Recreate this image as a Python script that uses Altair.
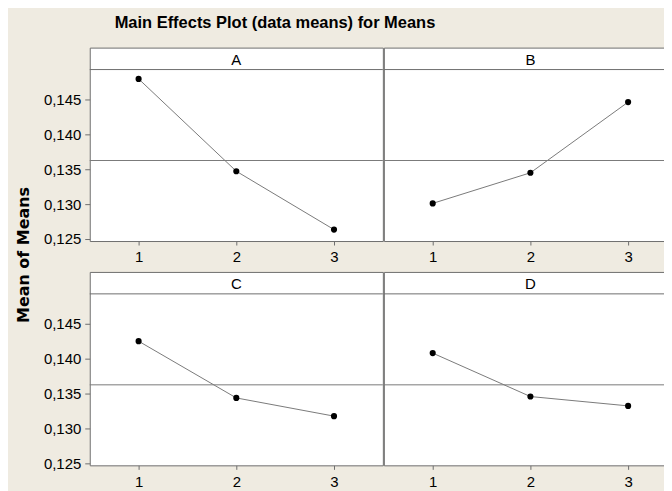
import altair as alt
import pandas as pd

# ---- data ----
factors = ["A", "B", "C", "D"]
levels = [1, 2, 3]
means_A = [0.14796, 0.13471, 0.12634]
means_B = [0.13010, 0.13449, 0.14463]
means_C = [0.14251, 0.13437, 0.13176]
means_D = [0.14080, 0.13457, 0.13323]
grand_mean = 0.13625
y_ticks = [0.125, 0.130, 0.135, 0.140, 0.145]
x_ticks = [1, 2, 3]
chart_title = "Main Effects Plot (data means) for Means"
y_title = "Mean of Means"

series = {"A": means_A, "B": means_B, "C": means_C, "D": means_D}
rows = []
for f in factors:
    for lv, v in zip(levels, series[f]):
        rows.append({"factor": f, "level": lv, "mean": v})
df = pd.DataFrame(rows)

BG = "#EFEBE1"
FRAME = "#6e6e6e"
LINE = "#7a7a7a"
FONT = "Liberation Sans"
PX_PER_LEVEL = 98
HEADER_H = 22
PLOT_H = 172
Y_LOW, Y_HIGH = 0.1247, 0.1493
# extend the domain upward so that the header strip sits inside the frame
Y_TOP = Y_HIGH + HEADER_H * (Y_HIGH - Y_LOW) / PLOT_H
PANEL_H = PLOT_H + HEADER_H

frame_view = alt.ViewBackground(fill="white", stroke=FRAME, strokeWidth=1)


def panel(f, left, width):
    d = df[df["factor"] == f]
    xs = alt.X(
        "level:Q",
        scale=alt.Scale(domain=[0.5, 0.5 + width / PX_PER_LEVEL], nice=False, zero=False),
        axis=alt.Axis(values=x_ticks, format="d", title=None, grid=False, domain=False,
                      tickSize=4, tickColor=FRAME, labelFontSize=15, labelFont=FONT,
                      labelColor="black", labelPadding=5, labelFlush=False),
    )
    if left:
        yaxis = alt.Axis(values=y_ticks, title=None, grid=False, domain=False,
                         labelExpr="replace(format(datum.value, '.3f'), '.', ',')",
                         tickSize=5, tickColor=FRAME, labelFontSize=15, labelFont=FONT,
                         labelColor="black", labelPadding=4)
    else:
        yaxis = None
    ys = alt.Y("mean:Q", scale=alt.Scale(domain=[Y_LOW, Y_TOP], nice=False, zero=False), axis=yaxis)
    base = alt.Chart(d)
    ref = (
        alt.Chart(pd.DataFrame({"mean": [grand_mean]}))
        .mark_rule(color=LINE, strokeWidth=1)
        .encode(y=ys)
    )
    hdr_line = (
        alt.Chart(pd.DataFrame({"factor": [f]}))
        .mark_rule(color=FRAME, strokeWidth=1)
        .encode(x=alt.value(0), x2=alt.value(width), y=alt.value(HEADER_H))
    )
    hdr_text = (
        alt.Chart(pd.DataFrame({"factor": [f]}))
        .mark_text(font=FONT, fontSize=15, color="black", baseline="middle", align="center")
        .encode(text="factor:N", x=alt.value(147), y=alt.value(HEADER_H / 2 + 1))
    )
    line = base.mark_line(color=LINE, strokeWidth=1).encode(x=xs, y=ys)
    pts = base.mark_circle(color="black", size=38, opacity=1).encode(x=xs, y=ys)
    return alt.layer(line, ref, pts, hdr_line, hdr_text).properties(
        width=width, height=PANEL_H, view=frame_view
    )


W_PANEL = 294
top = alt.hconcat(panel("A", True, W_PANEL), panel("B", False, W_PANEL), spacing=-3)
bottom = alt.hconcat(panel("C", True, W_PANEL), panel("D", False, W_PANEL), spacing=-3)

ytitle = (
    alt.Chart(pd.DataFrame({"t": [y_title]}))
    .mark_text(font="DejaVu Sans", fontWeight="bold", fontSize=16, angle=270,
               align="center", baseline="middle", color="black")
    .encode(text="t:N", x=alt.value(6), y=alt.value(208))
    .properties(width=12, height=420, view=alt.ViewBackground(strokeWidth=0, fill="transparent"))
)

grid = alt.vconcat(top, bottom, spacing=5)

chart = (
    alt.hconcat(ytitle, grid, spacing=10)
    .properties(
        title=alt.TitleParams(chart_title, font=FONT, fontWeight="bold",
                              fontSize=16.5, anchor="start", dx=99, offset=3,
                              baseline="alphabetic", color="black"),
        background=BG,
        padding={"left": 8, "top": 6, "right": -14, "bottom": 0},
    )
    .configure_view(strokeWidth=0)
)

chart.save("out.html", embed_options={"renderer": "svg", "actions": False})
